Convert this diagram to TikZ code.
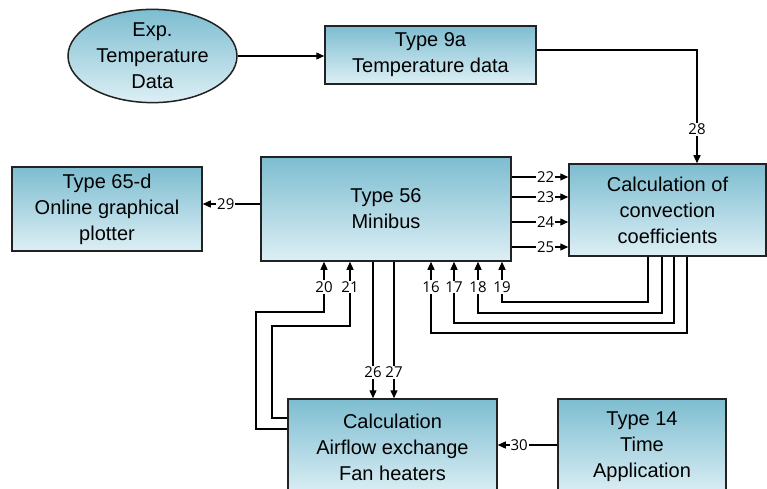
\documentclass[tikz,border=0pt]{standalone}
\usepackage{fontspec}
\setmainfont{Liberation Sans}
\newfontfamily\numfont{Open Sans}
\usetikzlibrary{arrows.meta,shapes.geometric,calc}
\definecolor{boxtop}{HTML}{7DBDD0}
\definecolor{boxmid}{HTML}{BFE0EA}
\definecolor{boxbot}{HTML}{DDEFF5}
\definecolor{edge}{HTML}{222222}

\begin{document}
\begin{tikzpicture}[
  x=1pt,y=-1pt,
  >={Triangle[length=8pt,width=7pt]},
  blk/.style={draw=edge, line width=1.5pt, top color=boxtop, middle color=boxmid, bottom color=boxbot,
    align=center, inner sep=0pt, font=\fontsize{20}{26}\selectfont},
  num/.style={font=\numfont\fontsize{15}{15}\selectfont, fill=white, inner sep=1pt},
  conn/.style={draw=black, line width=1.3pt},
]
\useasboundingbox (0,0) rectangle (767,489);

% Sources
\node[blk, ellipse, minimum width=169pt, minimum height=92pt] (expdata) at (152.5,56)
  {Exp.\\Temperature\\Data};
\node[blk, minimum width=211pt, minimum height=58pt] (type9a) at (430.5,55)
  {Type 9a\\Temperature data};

% Middle row
\node[blk, minimum width=190pt, minimum height=84pt] (plotter) at (107,209)
  {Type 65-d\\Online graphical\\plotter};
\node[blk, minimum width=250pt, minimum height=104pt] (minibus) at (386,209)
  {Type 56\\Minibus};
\node[blk, minimum width=197pt, minimum height=92pt] (conv) at (667.5,210)
  {Calculation of\\convection\\coefficients};

% Bottom row
\node[blk, minimum width=209pt, minimum height=96pt] (airflow) at (392.5,447)
  {Calculation\\Airflow exchange\\Fan heaters};
\node[blk, minimum width=168pt, minimum height=96pt] (time) at (642,447)
  {Type 14\\Time\\Application};

\draw[conn,->] (expdata.east) -- (type9a.west |- expdata.east);
\draw[conn,->] ([yshift=5pt]type9a.east) -| node[num, pos=0.85] {28} (conv.north -| 697,0);
\draw[conn,->] (minibus.west |- 0,204) -- node[num, pos=0.6] {29} (plotter.east |- 0,204);
\draw[conn,->] (time.west |- 0,445) -- node[num, pos=0.64] {30} (airflow.east |- 0,445);

\foreach \n/\y in {22/177,23/197,24/222,25/247}{
  \draw[conn,->] (minibus.east |- 0,\y) -- node[num, pos=0.6] {\n} (conv.west |- 0,\y);
}

\foreach \n/\x in {26/373,27/394}{
  \draw[conn,->] (minibus.south -| \x,0) -- node[num, pos=0.81] {\n} (airflow.north -| \x,0);
}

% Feedback into the minibus
\foreach \n/\xa/\xb/\yy in {16/431/687/333,17/454/674/323,18/478/662/313,19/502/648/302}{
  \draw[conn,->] (conv.south -| \xb,0) |- (\xa,\yy) -- (minibus.south -| \xa,0);
  \node[num] (l\n) at (\xa,287) {\n};
}
\foreach \n/\xa/\xb/\yy/\ya in {20/324/256/312/429,21/350/272/326/418}{
  \draw[conn,->] (airflow.west |- 0,\ya) -| (\xb,\yy) -| (minibus.south -| \xa,0);
  \node[num] (l\n) at (\xa,287) {\n};
}

\end{tikzpicture}
\end{document}
